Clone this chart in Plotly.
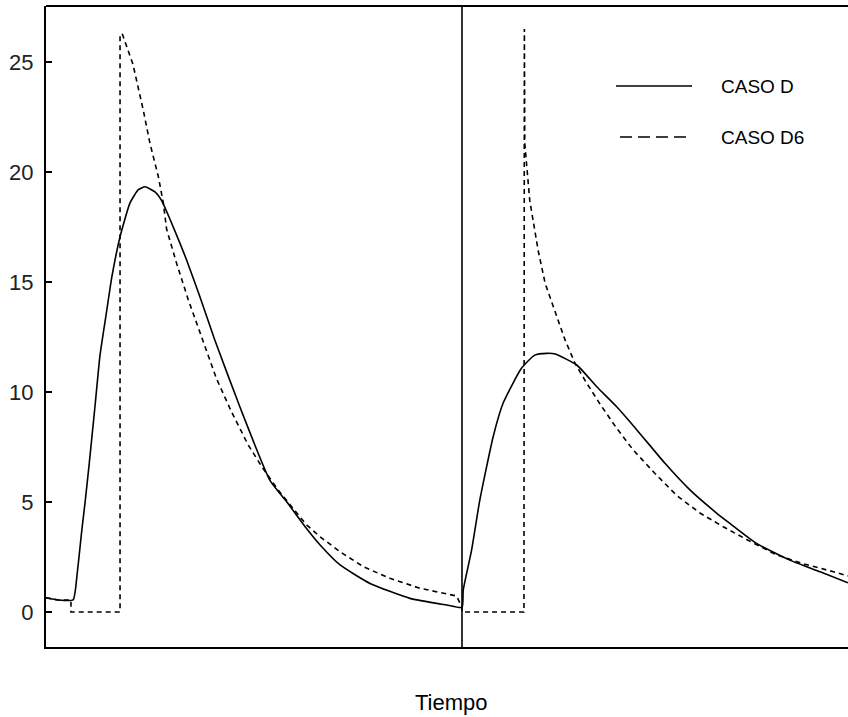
import plotly.graph_objects as go

# ---- data (time in arbitrary units; divider between the two periods at t=100) ----
caso_d_t = [0, 2.9, 6.5, 7.5, 8.6, 9.4, 10.4, 11.8, 13.0, 14.6, 15.8, 17.8, 20.2, 22.2,
            23.8, 26.2, 27.8, 30.6, 33.8, 37.0, 40.6, 46.6, 53.8, 57.9, 62.3, 65.9, 70.7,
            77.9, 87.5, 96.3, 100.0,
            100.3, 102.3, 104.3, 107.5, 109.9, 114.3, 117.5, 120.4, 122.4, 127.6, 132.4,
            137.2, 142.4, 148.8, 154.8, 161.2, 164.4, 170.8, 178.8, 186.1, 192.8]
caso_d_y = [0.65, 0.55, 0.55, 1.76, 3.7, 5.0, 6.76, 9.4, 11.7, 13.7, 15.2, 17.06, 18.6, 19.2,
            19.33, 19.1, 18.7, 17.5, 16.0, 14.33, 12.36, 9.33, 6.0, 5.0, 3.88, 3.05, 2.14,
            1.3, 0.62, 0.32, 0.21,
            1.0, 2.8, 5.1, 7.97, 9.5, 11.08, 11.68, 11.76, 11.73, 11.23, 10.24,
            9.33, 8.2, 6.76, 5.55, 4.5, 4.03, 3.12, 2.36, 1.83, 1.33]

caso_d6_t = [0, 2.9, 6.0, 6.0, 17.8, 17.8, 18.3, 20.9, 23.4, 25.0, 27.0, 28.2, 29.0, 31.4,
             34.2, 38.2, 41.0, 44.6, 48.6, 51.9, 55.8, 60.3, 62.7, 65.9, 70.7, 76.3, 82.7,
             89.9, 98.7, 100.0, 100.0, 114.9, 115.0, 115.1, 116.3, 118.3, 120.0, 122.8,
             124.8, 127.2, 130.0, 133.2, 137.2, 141.2, 146.4, 151.6, 157.2, 162.8, 168.4,
             175.6, 182.0, 189.3, 192.8]
caso_d6_y = [0.65, 0.55, 0.55, 0.0, 0.0, 26.2, 26.3, 24.9, 22.8, 21.3, 19.8, 18.6, 17.4, 15.85,
             14.2, 12.06, 10.6, 9.1, 7.6, 6.6, 5.55, 4.5, 3.95, 3.42, 2.74, 2.06, 1.53,
             1.08, 0.73, 0.21, 0.0, 0.0, 26.5, 21.3, 18.7, 16.45, 14.94, 13.4,
             12.36, 11.3, 10.4, 9.45, 8.35, 7.36, 6.3, 5.3, 4.5, 3.88, 3.3,
             2.6, 2.2, 1.83, 1.64]

y_ticks = [0, 5, 10, 15, 20, 25]
series_names = ["CASO D", "CASO D6"]
divider_t = 100
x_range = [0, 192.8]
y_range = [-1.59, 27.55]
x_title = "Tiempo"

FONT = "Liberation Sans, Arial, sans-serif"

fig = go.Figure()
fig.add_trace(go.Scatter(x=caso_d_t, y=caso_d_y, mode="lines", name=series_names[0],
                         line=dict(color="black", width=1.6, shape="spline", smoothing=0.5),
                         showlegend=False))
fig.add_trace(go.Scatter(x=caso_d6_t, y=caso_d6_y, mode="lines", name=series_names[1],
                         line=dict(color="black", width=1.6, dash="5px,4px"), showlegend=False))

shapes = [
    # divider between periods
    dict(type="line", xref="x", yref="paper", x0=divider_t, x1=divider_t, y0=0, y1=1,
         line=dict(color="black", width=1.6)),
    # top border
    dict(type="line", xref="paper", yref="paper", x0=0, x1=1, y0=1, y1=1,
         line=dict(color="black", width=2)),
    # legend samples
    dict(type="line", xref="paper", yref="paper", x0=(616 - 46) / 802, x1=(692 - 46) / 802,
         y0=(647 - 86) / 641, y1=(647 - 86) / 641, line=dict(color="black", width=1.6)),
    dict(type="line", xref="paper", yref="paper", x0=(620 - 46) / 802, x1=(692 - 46) / 802,
         y0=(647 - 137) / 641, y1=(647 - 137) / 641,
         line=dict(color="black", width=1.6, dash="12px,6px")),
]

annotations = [
    dict(text=series_names[0], xref="paper", yref="paper", x=(719 - 46) / 802,
         y=(647 - 86) / 641, xanchor="left", yanchor="middle", showarrow=False,
         font=dict(family=FONT, size=19, color="black")),
    dict(text=series_names[1], xref="paper", yref="paper", x=(719 - 46) / 802,
         y=(647 - 137) / 641, xanchor="left", yanchor="middle", showarrow=False,
         font=dict(family=FONT, size=19, color="black")),
    dict(text=x_title, xref="paper", yref="paper", x=(451 - 46) / 802,
         y=(647 - 702) / 641, xanchor="center", yanchor="middle", showarrow=False,
         font=dict(family=FONT, size=22, color="black")),
]

fig.update_layout(
    width=848, height=717,
    margin=dict(l=46, r=0, t=6, b=70, pad=0),
    paper_bgcolor="white", plot_bgcolor="white",
    font=dict(family=FONT, color="black"),
    shapes=shapes, annotations=annotations,
    showlegend=False,
)
fig.update_xaxes(range=x_range, showgrid=False, zeroline=False, showticklabels=False,
                 ticks="", showline=True, linecolor="black", linewidth=2)
fig.update_yaxes(range=y_range, tickvals=y_ticks, ticktext=[str(v) for v in y_ticks],
                 showgrid=False, zeroline=False, ticks="inside", ticklen=6, tickwidth=1.5,
                 tickcolor="black", showline=True, linecolor="black", linewidth=2,
                 tickfont=dict(family=FONT, size=22, color="#222"), ticklabelstandoff=6)

fig.write_html("out.html")
